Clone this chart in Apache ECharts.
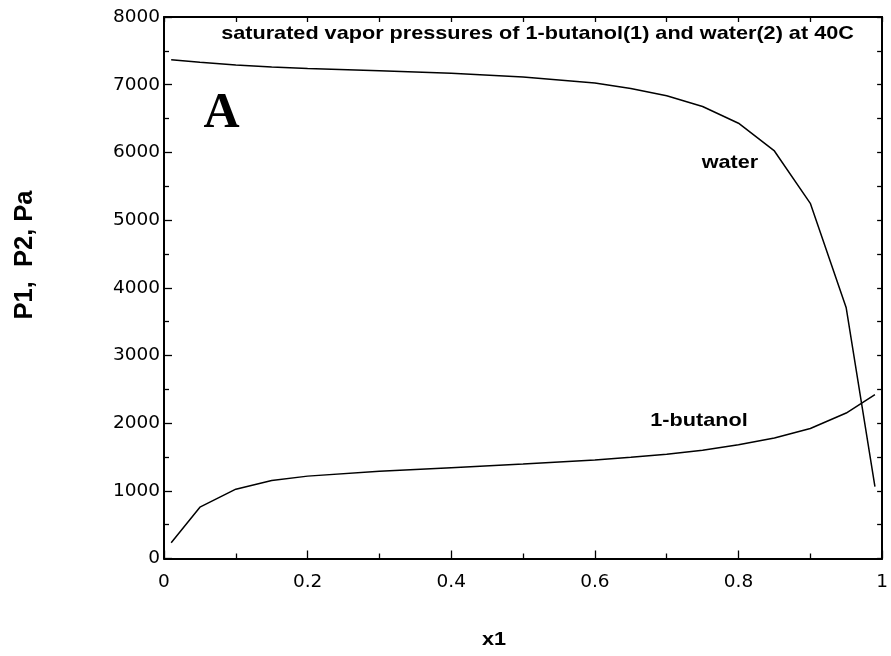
<!DOCTYPE html>
<html>
<head>
<meta charset="utf-8">
<script src="https://cdn.jsdelivr.net/npm/echarts@6/dist/echarts.min.js"></script>
<style>html,body{margin:0;padding:0;background:#fff}#c{width:891px;height:656px}</style>
</head>
<body>
<div id="c"></div>
<script>
const x1 = [0.01, 0.05, 0.1, 0.15, 0.2, 0.3, 0.4, 0.5, 0.6, 0.65, 0.7, 0.75, 0.8, 0.85, 0.9, 0.95, 0.99];
const waterP = [7369, 7330, 7290, 7262, 7240, 7205, 7168, 7112, 7025, 6945, 6836, 6678, 6431, 6021, 5247, 3703, 1063];
const butanolP = [234, 758, 1024, 1152, 1217, 1290, 1342, 1395, 1455, 1495, 1540, 1600, 1680, 1779, 1921, 2149, 2420];
const xTicks = [0, 0.2, 0.4, 0.6, 0.8, 1];
const yTicks = [0, 1000, 2000, 3000, 4000, 5000, 6000, 7000, 8000];

const chart = echarts.init(document.getElementById('c'), null, {renderer: 'canvas'});
const font = '"DejaVu Sans", sans-serif';
const boldArial = 'bold 18.5px "Liberation Sans", Arial, sans-serif';
function axisBase(tickLen, minorLen) {
  return {
    type: 'value',
    axisLine: {show: true, onZero: false, lineStyle: {color: '#000', width: 2}},
    axisTick: {show: true, inside: true, length: tickLen, lineStyle: {color: '#000', width: 1.3}},
    minorTick: {show: true, splitNumber: 2, length: minorLen, lineStyle: {color: '#000', width: 1.3}},
    splitLine: {show: false}
  };
}
chart.setOption({
  animation: false,
  backgroundColor: '#fff',
  grid: {left: 164, right: 5, top: 17, bottom: 97.5},
  xAxis: [
    Object.assign(axisBase(8, 5), {
      position: 'bottom', min: 0, max: 1, interval: 0.2,
      axisLabel: {color: '#000', fontFamily: font, fontSize: 18.5, margin: 14,
        formatter: v => xTicks.includes(+v.toFixed(2)) ? String(+v.toFixed(2)) : ''}
    }),
    Object.assign(axisBase(5, 5), {
      position: 'top', min: 0, max: 1, interval: 0.2, axisLabel: {show: false}
    })
  ],
  yAxis: [
    Object.assign(axisBase(8, 5), {
      position: 'left', min: 0, max: 8000, interval: 1000,
      axisLabel: {color: '#000', fontFamily: font, fontSize: 18.5, margin: 4,
        formatter: v => yTicks.includes(v) ? String(v) : ''}
    }),
    Object.assign(axisBase(5, 5), {
      position: 'right', min: 0, max: 8000, interval: 1000, axisLabel: {show: false}
    })
  ],
  series: [
    {
      name: 'water', type: 'line', showSymbol: false, symbol: 'none',
      lineStyle: {color: '#000', width: 1.5},
      data: x1.map((x, i) => [x, waterP[i]])
    },
    {
      name: '1-butanol', type: 'line', showSymbol: false, symbol: 'none',
      lineStyle: {color: '#000', width: 1.5},
      data: x1.map((x, i) => [x, butanolP[i]])
    }
  ],
  graphic: [
    {type: 'text', x: 537.5, y: 34, scaleX: 1.17,
      style: {text: 'saturated vapor pressures of 1-butanol(1) and water(2) at 40C',
        font: boldArial, fill: '#000', textAlign: 'center', textVerticalAlign: 'middle'}},
    {type: 'text', x: 221.5, y: 114,
      style: {text: 'A', font: 'bold 50px "Liberation Serif", "Times New Roman", serif', fill: '#000',
        textAlign: 'center', textVerticalAlign: 'middle'}},
    {type: 'text', x: 730, y: 163, scaleX: 1.17,
      style: {text: 'water', font: boldArial, fill: '#000',
        textAlign: 'center', textVerticalAlign: 'middle'}},
    {type: 'text', x: 699, y: 421, scaleX: 1.17,
      style: {text: '1-butanol', font: boldArial, fill: '#000',
        textAlign: 'center', textVerticalAlign: 'middle'}},
    {type: 'text', x: 494, y: 640, scaleX: 1.17,
      style: {text: 'x1', font: boldArial, fill: '#000',
        textAlign: 'center', textVerticalAlign: 'middle'}},
    {type: 'text', x: 25, y: 255, rotation: Math.PI / 2,
      style: {text: 'P1,  P2, Pa', font: 'bold 25.5px "Liberation Sans", Arial, sans-serif', fill: '#000',
        textAlign: 'center', textVerticalAlign: 'middle'}}
  ]
});
</script>
</body>
</html>
